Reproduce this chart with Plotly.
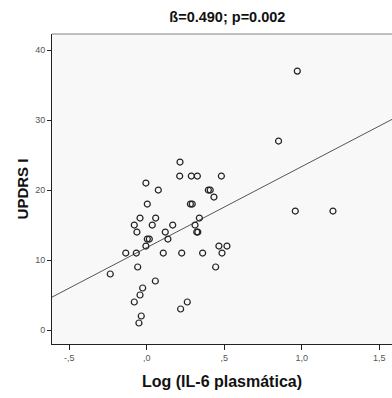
import plotly.graph_objects as go

# Data
log_il6 = [0.215, 0.213, 0.288, 0.327, 0.482, -0.005, 0.075, 0.398, 0.41, 0.434,
           0.004, 0.282, 0.294, -0.043, 0.058, 0.34, -0.08, 0.036, 0.168, 0.312,
           -0.063, 0.12, 0.323, 0.33, 0.004, 0.017, 0.137, -0.005, 0.466, 0.518,
           -0.135, -0.067, 0.107, 0.226, 0.361, 0.486, -0.058, 0.445, -0.235, 0.056,
           -0.026, -0.043, -0.08, 0.262, 0.219, -0.035, -0.05,
           0.972, 0.851, 0.959, 1.202]
updrs = [24, 22, 22, 22, 22, 21, 20, 20, 20, 19,
         18, 18, 18, 16, 16, 16, 15, 15, 15, 15,
         14, 14, 14, 14, 13, 13, 13, 12, 12, 12,
         11, 11, 11, 11, 11, 11, 9, 9, 8, 7,
         6, 5, 4, 4, 3, 2, 1,
         37, 27, 17, 17]

fit_x = [-0.611, 1.583]
fit_y = [4.7, 30.1]

x_tickvals = [-0.5, 0.0, 0.5, 1.0, 1.5]
x_ticktext = ["-,5", ",0", ",5", "1,0", "1,5"]
y_tickvals = [0, 10, 20, 30, 40]

title_text = "ß=0.490; p=0.002"
x_title = "Log (IL-6 plasmática)"
y_title = "UPDRS I"

fig = go.Figure()
fig.add_trace(go.Scatter(x=fit_x, y=fit_y, mode="lines",
                         line=dict(color="#555555", width=1), hoverinfo="skip"))
fig.add_trace(go.Scatter(x=log_il6, y=updrs, mode="markers",
                         marker=dict(symbol="circle-open", size=6,
                                     color="#222222", line=dict(width=1.2))))

fig.update_layout(
    width=392, height=398,
    margin=dict(l=52, r=0, t=34, b=54),
    paper_bgcolor="white",
    plot_bgcolor="#f8f8f8",
    showlegend=False,
    font=dict(family="Arial, Liberation Sans, sans-serif", color="#222"),
    title=dict(text="<b>" + title_text + "</b>", x=0.58, xanchor="center",
               y=1 - 17 / 398, yanchor="middle",
               font=dict(size=14.5, color="#111")),
)
fig.update_xaxes(range=[-0.611, 1.583], tickvals=x_tickvals, ticktext=x_ticktext,
                 showgrid=False, zeroline=False, showline=True, linecolor="#222",
                 linewidth=1, ticks="outside", ticklen=5, tickcolor="#222",
                 tickfont=dict(size=9, color="#555"),
                 title=dict(text="<b>" + x_title + "</b>", font=dict(size=16, color="#111"),
                            standoff=14))
fig.update_yaxes(range=[-2.0, 42.3], tickvals=y_tickvals,
                 showgrid=False, zeroline=False, showline=True, linecolor="#222",
                 linewidth=1, ticks="outside", ticklen=4, tickcolor="#222",
                 tickfont=dict(size=9, color="#555"),
                 title=dict(text="<b>" + y_title + "</b>", font=dict(size=15, color="#111"),
                            standoff=2))
fig.add_shape(type="line", xref="paper", yref="paper", x0=0, x1=1, y0=1, y1=1,
              line=dict(color="#aaaaaa", width=1.5))

fig.write_html("out.html")
